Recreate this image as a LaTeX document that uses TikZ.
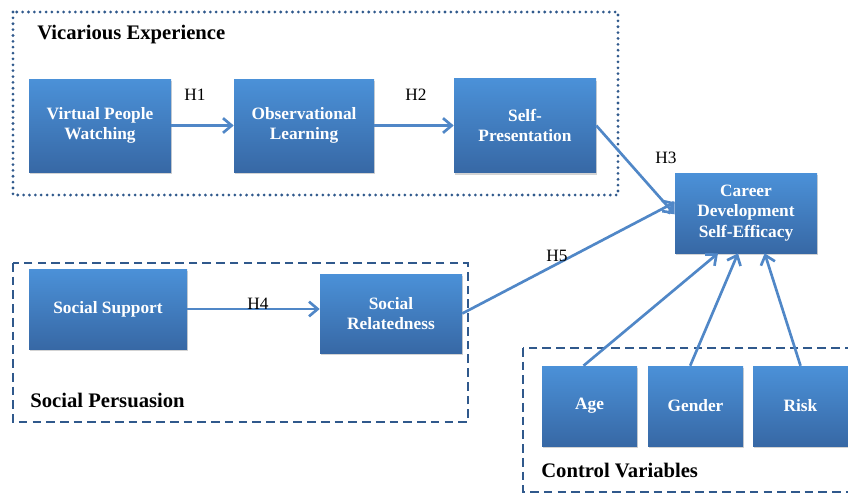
\documentclass[tikz,border=0pt]{standalone}
\usepackage{fontspec}
\setmainfont{Liberation Serif}
\usetikzlibrary{arrows.meta,shadows}
\definecolor{boxtop}{HTML}{4B91D8}
\definecolor{boxbot}{HTML}{3768A5}
\definecolor{linkblue}{HTML}{5087C7}
\definecolor{framblue}{HTML}{30598C}
\tikzset{
  varbox/.style={rectangle, top color=boxtop, bottom color=boxbot, draw=none,
    drop shadow={shadow xshift=1pt, shadow yshift=-1.5pt, opacity=0.35},
    text=white, font=\bfseries\fontsize{13}{15.5}\selectfont, align=center, inner sep=0pt},
  hyp/.style={font=\fontsize{13}{15}\selectfont, inner sep=0.75pt},
  grouplabel/.style={font=\bfseries\fontsize{15.5}{18}\selectfont, anchor=west, inner sep=0.75pt},
  link/.style={draw=linkblue, line width=2pt, -{Straight Barb[length=6.5pt,width=11pt]}},
}
\begin{document}
\begin{tikzpicture}[x=0.75pt,y=0.75pt,yscale=-1,xscale=1]
    \useasboundingbox (0,0) rectangle (848,494);

    %Shape: Rectangle [dotted frame]
    \draw [color=framblue, line width=2.3pt, line cap=round, dash pattern=on 0pt off 4.4pt] (13,12) rectangle (618,195) ;
    %Shape: Rectangle [dashed frames]
    \draw [color=framblue, line width=2.1pt, dash pattern=on 6.5pt off 3.8pt] (13,263) rectangle (468,422) ;
    \draw [color=framblue, line width=2.1pt, dash pattern=on 6.5pt off 3.8pt] (523,348) rectangle (860,492) ;

    % Boxes
    \node [varbox, minimum width=106.5pt, minimum height=69.75pt] (vpw) at (100,125.5) {Virtual People\\Watching};
    \node [varbox, minimum width=105pt, minimum height=69.75pt] (obs) at (304,125.5) {Observational\\Learning};
    \node [varbox, minimum width=106.5pt, minimum height=70.5pt] (pres) at (525,125.5) {Self-\\Presentation};
    \node [varbox, minimum width=106.5pt, minimum height=60pt] (cdse) at (746,213) {Career\\Development\\Self-Efficacy};
    \node [varbox, minimum width=118.5pt, minimum height=60pt] (supp) at (108,309) {Social Support};
    \node [varbox, minimum width=106.5pt, minimum height=59.25pt] (rel) at (391,313.5) {Social\\Relatedness};
    \node [varbox, minimum width=71.25pt, minimum height=60pt] (age) at (589.5,406) {Age};
    \node [varbox, minimum width=71.25pt, minimum height=60pt] (gender) at (695.5,406) {Gender};
    \node [varbox, minimum width=71.25pt, minimum height=60pt] (risk) at (800.5,406) {Risk};

    % Connectors
    \draw [link] (vpw) -- (obs) ;
    \draw [link] (obs) -- (pres) ;
    \draw [link] (pres.east) -- ([yshift=1pt]cdse.west) ;
    \draw [link] (rel.east) -- ([yshift=-8pt]cdse.west) ;
    \draw [link] (supp) -- (rel.west |- supp) ;
    \draw [link] ([xshift=-4.5pt]age.north) -- ([xshift=-21pt]cdse.south) ;
    \draw [link] ([xshift=-4pt]gender.north) -- ([xshift=-6pt]cdse.south) ;
    \draw [link] (risk.north) -- ([xshift=14pt]cdse.south) ;

    % Text Node
    \node [grouplabel] (vicl) at (36,35) {Vicarious Experience};
    % Text Node
    \node [grouplabel] (perl) at (29,400) {Social Persuasion};
    % Text Node
    \node [grouplabel] (ctrl) at (540,470) {Control Variables};
    % Text Node
    \node [hyp] (h1) at (195,95) {H1};
    \node [hyp] (h2) at (416,95) {H2};
    \node [hyp] (h3) at (666,158) {H3};
    \node [hyp] (h4) at (258,304) {H4};
    \node [hyp] (h5) at (557,256) {H5};
\end{tikzpicture}
\end{document}
